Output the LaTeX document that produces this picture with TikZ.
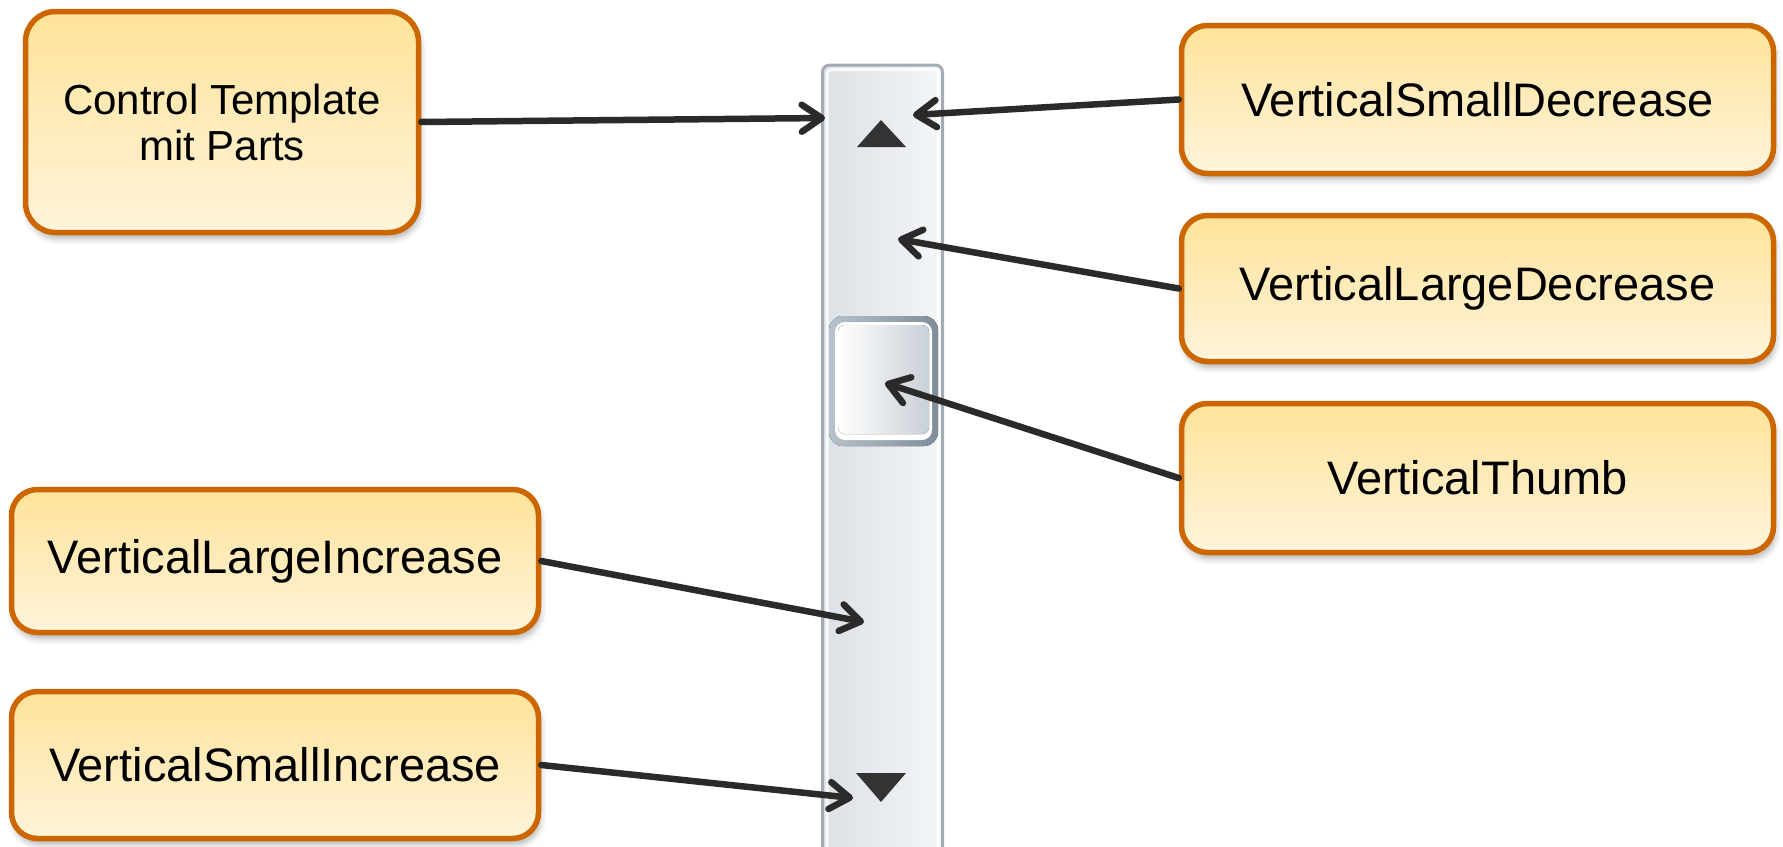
\documentclass[tikz,border=0pt]{standalone}
\usepackage{fontspec}
\setmainfont{Liberation Sans}
\usetikzlibrary{arrows.meta,shadows.blur}

\definecolor{boxedge}{HTML}{CC6600}
\definecolor{boxtop}{HTML}{FFE39A}
\definecolor{boxbot}{HTML}{FFF4DB}
\definecolor{arrowgray}{HTML}{2A2A2A}
\definecolor{barEdge}{HTML}{A3ABB3}
\definecolor{barL}{HTML}{DCE1E7}
\definecolor{barM}{HTML}{E8EBEF}
\definecolor{barR}{HTML}{F4F6F8}
\definecolor{thumbEdgeL}{HTML}{B7C2CB}
\definecolor{thumbEdgeR}{HTML}{7F8D98}
\definecolor{thumbR}{HTML}{C9D0D7}
\definecolor{glyph}{HTML}{333333}

\begin{document}
\begin{tikzpicture}[x=1pt,y=-1pt,
  partbox/.style={draw=boxedge, line width=5.5pt, rounded corners=26pt,
    top color=boxtop, bottom color=boxbot,
    blur shadow={shadow xshift=2pt, shadow yshift=-6pt,
      shadow blur radius=6pt, shadow opacity=30},
    inner sep=0pt, align=center, text=black,
    font=\fontsize{47}{50}\selectfont},
  pointer/.style={draw=arrowgray, line width=6.5pt, line cap=round,
    -{Straight Barb[length=20pt,width=27pt,round]}}]

\useasboundingbox (0,0) rectangle (1783,846);
\clip (0,0) rectangle (1783,846);

% scroll bar track
\draw[rounded corners=7pt, draw=barEdge, line width=3pt,
      left color=barL, right color=barR, middle color=barM]
  (822.5,65) rectangle (942.5,900);
\draw[white, opacity=0.8, line width=3pt, rounded corners=5pt]
  (827,69.5) rectangle (938,900);

% arrow glyphs of the repeat buttons
\fill[glyph] (857,147) -- (906,147) -- (881,120) -- cycle;
\fill[glyph] (856,773) -- (906,773) -- (881,802) -- cycle;

% thumb
\fill[rounded corners=14pt, left color=thumbEdgeL, right color=thumbEdgeR]
  (829,316) rectangle (938,446);
\fill[rounded corners=10pt, white] (835,322) rectangle (932,440);
\fill[rounded corners=7pt, left color=white, right color=thumbR]
  (838,325) rectangle (929,434);

% pointer targets on the scroll bar
\coordinate (tCT) at (825,118);
\coordinate (tSD) at (913,115);
\coordinate (tLD) at (898,239);
\coordinate (tTh) at (885,383);
\coordinate (tLI) at (864,622);
\coordinate (tSI) at (853,798);

% part labels
\node[partbox, rounded corners=30pt, minimum width=393pt, minimum height=221pt,
      font=\fontsize{42}{46}\selectfont] (ct) at (222,122)
  {Control Template\\mit Parts};
\node[partbox, minimum width=592pt, minimum height=148pt] (vsd) at (1477.5,99.5)
  {VerticalSmallDecrease};
\node[partbox, minimum width=592pt, minimum height=146pt] (vld) at (1477.5,288.5)
  {VerticalLargeDecrease};
\node[partbox, minimum width=592pt, minimum height=149pt] (vth) at (1477.5,478)
  {VerticalThumb};
\node[partbox, minimum width=527pt, minimum height=143pt] (vli) at (275,561)
  {VerticalLargeIncrease};
\node[partbox, minimum width=527pt, minimum height=147pt] (vsi) at (275,765)
  {VerticalSmallIncrease};

% connectors
\draw[pointer] (ct.east) -- (tCT);
\draw[pointer] (vsd.west) -- (tSD);
\draw[pointer] (vld.west) -- (tLD);
\draw[pointer] (vth.west) -- (tTh);
\draw[pointer] (vli.east) -- (tLI);
\draw[pointer] (vsi.east) -- (tSI);
\end{tikzpicture}
\end{document}
